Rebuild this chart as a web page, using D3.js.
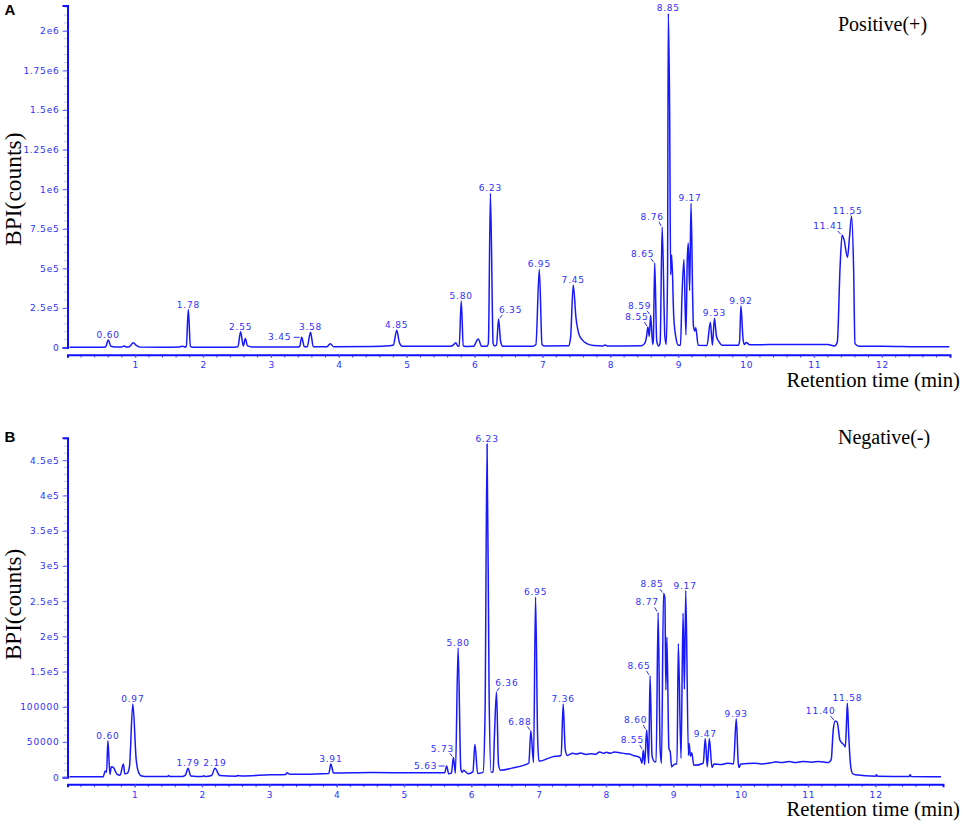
<!DOCTYPE html>
<html>
<head>
<meta charset="utf-8">
<script src="https://cdn.jsdelivr.net/npm/d3@7"></script>
<style>
  html, body { margin: 0; padding: 0; background: #fff; }
  .serif { font-family: "Liberation Serif", serif; fill: #000; }
  .small { font-family: "DejaVu Sans", sans-serif; font-size: 9px; letter-spacing: .8px; fill: #3030ff; }
  .tick text { font-family: "DejaVu Sans", sans-serif; font-size: 9px; letter-spacing: .8px; fill: #3030ff; }
  .trace { fill: none; stroke: #1818ff; stroke-width: 1.5; stroke-linejoin: round; }
</style>
</head>
<body>
<div id="chart"></div>
<script>
// [retention time, counts]
var traceA = [
  [0.03,2000],[0.5,3000],[0.56,4000],[0.6,48000],[0.64,8000],[0.7,4000],[0.8,4000],[0.83,10000],[0.87,4000],
  [0.91,6000],[0.97,30000],[1.02,12000],[1.07,3000],[1.4,2500],[1.65,4000],[1.7,9000],[1.73,4000],[1.75,8000],
  [1.78,240000],[1.81,8000],[1.85,3000],[2.45,3000],[2.51,6000],[2.55,100000],[2.59,10000],[2.62,58000],[2.65,12000],
  [2.72,4000],[3.4,4000],[3.42,8000],[3.45,65000],[3.49,5000],[3.53,5000],[3.58,97000],[3.62,6000],[3.82,5000],
  [3.87,25000],[3.92,6000],[4.5,7000],[4.74,11000],[4.8,16000],[4.85,110000],[4.89,30000],[4.93,8000],[5.6,8000],
  [5.67,12000],[5.72,30000],[5.75,9000],[5.77,10000],[5.8,295000],[5.83,12000],[5.86,7000],[5.98,8000],[6.05,55000],
  [6.1,9000],[6.18,9000],[6.2,30000],[6.23,975000],[6.27,25000],[6.29,10000],[6.32,16000],[6.35,180000],[6.38,40000],
  [6.41,9000],[6.85,9000],[6.9,20000],[6.95,495000],[6.99,20000],[7.02,10000],[7.38,11000],[7.41,60000],[7.45,395000],
  [7.49,190000],[7.53,90000],[7.58,50000],[7.65,25000],[7.75,13000],[7.88,10000],[7.92,16000],[7.96,10000],[8.45,12000],
  [8.5,25000],[8.53,70000],[8.55,130000],[8.57,70000],[8.59,205000],[8.62,20000],[8.63,50000],[8.65,535000],[8.68,40000],
  [8.71,10000],[8.73,30000],[8.76,762000],[8.8,70000],[8.82,20000],[8.84,500000],[8.85,2110000],[8.87,1500000],[8.885,460000],
  [8.9,585000],[8.93,200000],[8.96,70000],[9,15000],[9.03,15000],[9.05,300000],[9.08,557000],[9.11,80000],[9.13,560000],
  [9.145,660000],[9.165,360000],[9.185,912000],[9.21,300000],[9.22,140000],[9.24,105000],[9.255,125000],[9.29,15000],[9.42,14000],
  [9.47,160000],[9.5,15000],[9.53,185000],[9.56,70000],[9.6,35000],[9.64,15000],[9.88,15000],[9.9,40000],[9.92,262000],
  [9.95,60000],[9.97,20000],[10,32000],[10.05,18000],[10.6,20000],[11.2,19000],[11.3,10000],[11.34,35000],[11.38,500000],
  [11.41,710000],[11.44,680000],[11.49,570000],[11.52,700000],[11.55,830000],[11.58,500000],[11.6,25000],[11.66,8000],[12,9000],
  [12.5,6000],[12.99,5000]
];
var traceB = [
  [0.03,800],[0.53,800],[0.56,9000],[0.58,7000],[0.6,52000],[0.63,4000],[0.65,15000],[0.68,14000],[0.74,4000],[0.78,3000],
  [0.83,19000],[0.85,5000],[0.89,6000],[0.92,15000],[0.97,104000],[1.02,25000],[1.06,6000],[1.1,2000],[1.2,1000],[1.49,1000],
  [1.5,2500],[1.52,1000],[1.7,1000],[1.75,3000],[1.79,13000],[1.83,2000],[2.0,1000],[2.02,2200],[2.05,1000],[2.14,2500],
  [2.19,13000],[2.26,2500],[2.5,1500],[2.52,2500],[2.6,2000],[3,3500],[3.24,4000],[3.26,6500],[3.3,4200],[3.88,5500],
  [3.91,19000],[3.95,6000],[4.5,6800],[5,6500],[5.6,6500],[5.63,16000],[5.66,5000],[5.7,6000],[5.73,28000],[5.76,6000],
  [5.8,184000],[5.84,12000],[5.86,7000],[5.88,10000],[5.95,5000],[6.02,8000],[6.05,47000],[6.09,5500],[6.17,7000],[6.2,90000],
  [6.23,473000],[6.26,120000],[6.29,7000],[6.32,8000],[6.34,60000],[6.37,121000],[6.4,18000],[6.43,10000],[6.6,13000],[6.85,20000],
  [6.88,66000],[6.92,21000],[6.95,256000],[6.98,60000],[7,23000],[7.2,29000],[7.33,31000],[7.36,104000],[7.39,40000],[7.42,31000],
  [7.5,34000],[7.56,33000],[7.62,34500],[7.7,32500],[7.78,33500],[7.84,32500],[7.9,36000],[7.96,34000],[8,35500],[8.06,34000],
  [8.12,36000],[8.2,35000],[8.28,33500],[8.34,33000],[8.4,31000],[8.5,28000],[8.53,20000],[8.55,38500],[8.57,18000],
  [8.6,67000],[8.63,20000],[8.65,144000],[8.68,30000],[8.72,22000],[8.74,22000],[8.77,234000],[8.8,40000],[8.82,20000],[8.85,261000],
  [8.87,255000],[8.885,124000],[8.9,199000],[8.93,41000],[8.95,36000],[8.97,15000],[9.02,19000],[9.05,19000],[9.07,190000],[9.11,27000],
  [9.14,233000],[9.16,125000],[9.18,265000],[9.22,31000],[9.23,48000],[9.25,30000],[9.27,35000],[9.3,17000],[9.44,20000],[9.47,55000],
  [9.5,15000],[9.53,55000],[9.57,14000],[9.6,19000],[9.7,18000],[9.8,20000],[9.89,19000],[9.93,83000],[9.96,20000],[9.97,14000],[10,19000],
  [10.2,20000],[10.3,19000],[10.45,20500],[10.52,22000],[10.6,21000],[10.72,22500],[10.8,21000],[10.92,22500],[11.05,21500],[11.15,22500],[11.3,21000],
  [11.34,25000],[11.37,67000],[11.4,80000],[11.43,78000],[11.47,52500],[11.53,46000],[11.55,43000],[11.57,85000],
  [11.58,105000],[11.6,60000],[11.63,15000],[11.66,5000],[11.7,3500],[12,1500],[12.01,3500],[12.03,1500],[12.5,1000],[12.51,3500],
  [12.53,1000],[12.97,800]
];

var xTickValues = [1,2,3,4,5,6,7,8,9,10,11,12];
var yTicksA = [0,250000,500000,750000,1000000,1250000,1500000,1750000,2000000];
var yTickLabelsA = ["0","2.5e5","5e5","7.5e5","1e6","1.25e6","1.5e6","1.75e6","2e6"];
var yTicksB = [0,50000,100000,150000,200000,250000,300000,350000,400000,450000];
var yTickLabelsB = ["0","50000","100000","1.5e5","2e5","2.5e5","3e5","3.5e5","4e5","4.5e5"];

// peak labels: retention time and height of the labelled peak
var labelTimesA = ["0.60","1.78","2.55","3.45","3.58","4.85","5.80","6.23","6.35","6.95","7.45","8.55","8.59","8.65","8.76","8.85","9.17","9.53","9.92","11.41","11.55"];
var labelValuesA = [48000,240000,100000,65000,97000,110000,295000,975000,180000,495000,395000,130000,205000,535000,762000,2110000,912000,185000,262000,710000,830000];
var labelTimesB = ["0.60","0.97","1.79","2.19","3.91","5.63","5.73","5.80","6.23","6.36","6.88","6.95","7.36","8.55","8.60","8.65","8.77","8.85","9.17","9.47","9.93","11.40","11.58"];
var labelValuesB = [52000,104000,13000,13000,19000,16000,28000,184000,473000,121000,66000,256000,104000,38500,67000,144000,234000,261000,265000,55000,83000,80000,105000];

// labels that sit off to one side of their peak, with a short leader
var labelShiftA = {"3.45":[-22,3],"6.35":[12,-6],"8.55":[-11,-7],"8.59":[-11,-6],"8.65":[-12,-6],"8.76":[-10,-7],"11.41":[-14,-6],"11.55":[-4,-2]};
var labelShiftB = {"5.63":[-21,3],"5.73":[-11,-6],"6.36":[11,-6],"6.88":[-11,-6],"8.55":[-11,-7],"8.60":[-11,-7],"8.65":[-11,-7],"8.77":[-11,-7],"8.85":[-11.5,-6],"11.40":[-14.5,-6.7]};

var svg = d3.select("#chart").append("svg").attr("width", 964).attr("height", 825).style("display", "block");

function drawPanel(p) {
  var x = d3.scaleLinear().domain([0, 13]).range([67.5, p.xEnd]);
  var y = d3.scaleLinear().domain([0, p.yMax]).range([p.yZero, p.yTop]);
  var g = svg.append("g");

  // minor ticks first so the axes cover them
  g.selectAll(".minory").data(d3.range(0, p.yMax, p.yMinor)).enter().append("line")
    .attr("x1", 64).attr("x2", 67).attr("y1", function(d) { return y(d); }).attr("y2", function(d) { return y(d); })
    .attr("stroke", "#c4c4ff").attr("stroke-width", 1);
  g.selectAll(".minorx").data(d3.range(0.2, 13, 0.2)).enter().append("line")
    .attr("x1", function(d) { return x(d); }).attr("x2", function(d) { return x(d); })
    .attr("y1", p.axisY).attr("y2", p.axisY + 3)
    .attr("stroke", "#5a5aff").attr("stroke-width", 1);

  var yAxis = d3.axisLeft(y).tickValues(p.yTicks).tickSize(5).tickPadding(3)
    .tickFormat(function(d, i) { return p.yLabels[i]; });
  var yg = g.append("g").attr("transform", "translate(67.5,0)").call(yAxis);
  yg.select(".domain").attr("stroke", "#1010ff").attr("stroke-width", 2);
  yg.selectAll(".tick line").attr("stroke", "#6a6aff");

  var xScaleAxis = d3.axisBottom(x).tickValues(xTickValues).tickSize(3).tickPadding(4).tickFormat(d3.format("d"));
  var xg = g.append("g").attr("transform", "translate(0," + p.axisY + ")").call(xScaleAxis);
  xg.select(".domain").attr("stroke", "#1010ff").attr("stroke-width", 2);
  xg.selectAll(".tick line").attr("stroke", "#5a5aff");

  var line = d3.line().x(function(d) { return x(d[0]); }).y(function(d) { return y(d[1]); }).curve(d3.curveMonotoneX);
  g.append("path").datum(p.trace).attr("class", "trace").attr("d", line);

  p.labelTimes.forEach(function(t, i) {
    var px = x(+t), py = y(p.labelValues[i]);
    var s = p.shift[t];
    var dx = s ? s[0] : 0, dy = s ? s[1] : -2;
    g.append("text").attr("class", "small").attr("text-anchor", "middle")
      .attr("x", px + dx).attr("y", py + dy).text(t);
    if (s) {
      // leader from the peak towards its label
      var horizontal = dy > 0;
      g.append("line")
        .attr("x1", px + (horizontal ? -2 : dx * 0.1)).attr("y1", py + (horizontal ? 0 : -1))
        .attr("x2", px + (horizontal ? -8 : dx * 0.32)).attr("y2", py + (horizontal ? 0 : dy * 0.72))
        .attr("stroke", "#2a2aff").attr("stroke-width", 1);
    }
  });

  g.append("text").attr("class", "serif").attr("font-size", p.bpiSize)
    .attr("transform", "translate(21," + p.bpiY + ") rotate(-90)").text("BPI(counts)");
  g.append("text").attr("class", "serif").attr("font-size", 20.7).attr("text-anchor", "end")
    .attr("x", 960).attr("y", p.axisY + 32).text("Retention time (min)");
  g.append("text").attr("class", "serif").attr("font-size", 20)
    .attr("x", 838).attr("y", p.modeY).text(p.mode);
  g.append("text").attr("x", 4.5).attr("y", p.letterY).attr("font-family", "Liberation Sans, sans-serif")
    .attr("font-weight", "bold").attr("font-size", 15).text(p.letter);
}

drawPanel({ letter: "A", mode: "Positive(+)", trace: traceA, yMax: 2160000, yMinor: 50000, yZero: 347.6, yTop: 5.5, xEnd: 950, axisY: 354.7,
  yTicks: yTicksA, yLabels: yTickLabelsA, labelTimes: labelTimesA, labelValues: labelValuesA, shift: labelShiftA, bpiY: 246, bpiSize: 23.5, modeY: 31, letterY: 15 });
drawPanel({ letter: "B", mode: "Negative(-)", trace: traceB, yMax: 482000, yMinor: 10000, yZero: 777.3, yTop: 437.7, xEnd: 943, axisY: 784.3,
  yTicks: yTicksB, yLabels: yTickLabelsB, labelTimes: labelTimesB, labelValues: labelValuesB, shift: labelShiftB, bpiY: 660, bpiSize: 23, modeY: 444, letterY: 442 });
</script>
</body>
</html>
